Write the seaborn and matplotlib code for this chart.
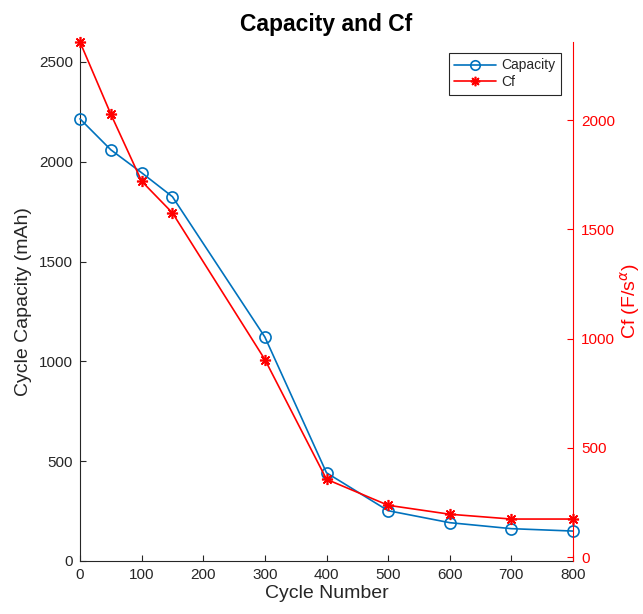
import matplotlib
matplotlib.use("Agg")
import matplotlib.pyplot as plt
import seaborn as sns
import pandas as pd

cycles = [0, 50, 100, 150, 300, 400, 500, 600, 700, 800]
capacity = [2215, 2060, 1945, 1825, 1122, 442, 252, 192, 162, 150]
cf = [2357, 2027, 1720, 1575, 904, 356, 237, 196, 174, 174]

sns.set_theme(style="white")
plt.rcParams['font.family'] = ['Liberation Sans', 'DejaVu Sans']

df = pd.DataFrame({"Cycle": cycles, "Capacity": capacity, "Cf": cf})

fig = plt.figure(figsize=(6.43, 6.14), dpi=100)
ax = fig.add_axes([80/643, 53/614, 493/643, 519/614])
ax2 = ax.twinx()

blue = "#0072BD"
red = "#FF0000"

sns.lineplot(data=df, x="Cycle", y="Capacity", ax=ax, color=blue, marker="o",
             markersize=8, markerfacecolor="none", markeredgecolor=blue,
             markeredgewidth=1.2, linewidth=1.2, label="Capacity", legend=False,
             clip_on=False, zorder=5)
sns.lineplot(data=df, x="Cycle", y="Cf", ax=ax2, color=red, marker=(8, 2, 0),
             markersize=8, markeredgecolor=red, markeredgewidth=1.2,
             linewidth=1.2, label="Cf", legend=False, clip_on=False, zorder=5)

ax.set_xlim(0, 800)
ax.set_ylim(0, 2600)
ax2.set_ylim(-18, 2357)
ax.set_xticks([0, 100, 200, 300, 400, 500, 600, 700, 800])
ax.set_yticks([0, 500, 1000, 1500, 2000, 2500])
ax2.set_yticks([0, 500, 1000, 1500, 2000])

for a in (ax, ax2):
    a.spines['top'].set_visible(False)
    a.grid(False)
ax2.spines['left'].set_visible(False)
ax2.spines['bottom'].set_visible(False)
ax.spines['right'].set_visible(False)
ax.spines['left'].set_color("#262626")
ax.spines['bottom'].set_color("#262626")
ax2.spines['right'].set_color(red)
for s in ('left', 'bottom'):
    ax.spines[s].set_linewidth(0.8)
ax2.spines['right'].set_linewidth(0.8)

ax.tick_params(axis='both', direction='in', length=4, width=0.8, colors="#262626",
               labelsize=11, left=True, bottom=True, pad=5)
ax2.tick_params(axis='y', direction='in', length=4, width=0.8, colors=red,
                labelcolor=red, labelsize=11, right=True, pad=6)

ax.set_xlabel("Cycle Number", fontsize=14, color="#262626", labelpad=2)
ax.set_ylabel("Cycle Capacity (mAh)", fontsize=14, color="#262626", labelpad=5)
ax2.set_ylabel(r"Cf (F/s$^{\alpha}$)", fontsize=14, color=red, labelpad=2)
ax.set_title("Capacity and Cf", fontsize=16.5, fontweight="bold", color="black", pad=8)

h1, l1 = ax.get_legend_handles_labels()
h2, l2 = ax2.get_legend_handles_labels()
leg = ax2.legend(h1 + h2, l1 + l2, loc="upper right", bbox_to_anchor=(0.976, 0.979),
                 borderaxespad=0, markerscale=0.85,
                 fontsize=10, frameon=True, fancybox=False, edgecolor="#262626",
                 framealpha=1, borderpad=0.4, handlelength=3, labelspacing=0.2,
                 handletextpad=0.4)
leg.get_frame().set_linewidth(0.8)

fig.savefig("out.png", dpi=100)
